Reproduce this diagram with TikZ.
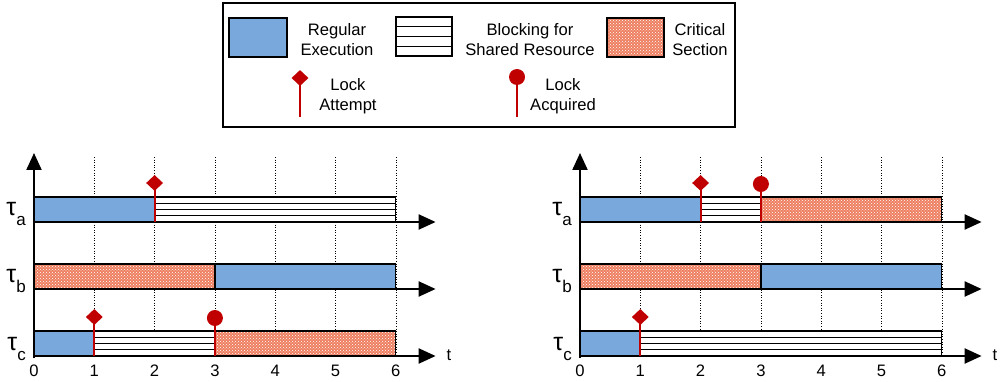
\documentclass[tikz,border=0pt]{standalone}
\usepackage{fontspec}
\setmainfont{Liberation Sans}
\usetikzlibrary{arrows.meta,patterns,shapes.geometric}
\definecolor{regblue}{RGB}{120,168,220}
\definecolor{critsal}{RGB}{238,128,98}
\definecolor{lockred}{RGB}{192,0,0}
\tikzset{
  barbox/.style={draw=black,line width=1.3pt},
  regfill/.style={barbox,fill=regblue},
  axisline/.style={line width=2.2pt,-{Triangle[length=17pt,width=15pt]}},
  gridline/.style={dotted,line width=0.6pt,black},
  lockline/.style={draw=lockred,line width=1.8pt},
  attmark/.style={diamond,fill=lockred,inner sep=0pt,minimum width=17pt,minimum height=16pt},
  acqmark/.style={circle,fill=lockred,inner sep=0pt,minimum size=16pt},
  lbl/.style={font=\fontsize{16.6}{20}\selectfont,align=center,inner sep=0pt},
  ticklbl/.style={font=\fontsize{16.6}{16.6}\selectfont,inner sep=0pt},
  taulbl/.style={anchor=base east,inner sep=0pt,xshift=-8pt}
}
\newcommand\regbar[3]{\draw[regfill] (#1,#3-25) rectangle (#2,#3);}
\newcommand\critbar[3]{%
  \fill[critsal] (#1,#3-25) rectangle (#2,#3);
  \fill[pattern=crosshatch dots,pattern color=white] (#1,#3-25) rectangle (#2,#3);
  \draw[barbox] (#1,#3-25) rectangle (#2,#3);}
\newcommand\blockbar[3]{%
  \draw[barbox,fill=white] (#1,#3-25) rectangle (#2,#3);
  \foreach \k in {1,2,3}{\draw[line width=1.4pt] (#1,#3-25+6.25*\k) -- (#2,#3-25+6.25*\k);}}
\newcommand\lockatt[3]{%
  \draw[lockline] (#1,#2) -- (#1,#2-39);
  \node[attmark] (#3) at (#1,#2-39) {};}
\newcommand\lockacq[3]{%
  \draw[lockline] (#1,#2) -- (#1,#2-38);
  \node[acqmark] (#3) at (#1,#2-38) {};}
\newcommand\taulabel[2]{\node[taulbl] at (0,#1-6) {\fontsize{25}{25}\selectfont τ\raisebox{-0.4em}{\fontsize{17}{17}\selectfont #2}};}
\newcommand\chartframe{%
  \foreach \t in {1,...,6}{\draw[gridline] (\t,157) -- (\t,357);}
  \foreach \t in {0,...,6}{\node[ticklbl] (tick\t) at (\t,371) {\t};}
  \draw[axisline] (0,358) -- (0,153);
  \draw[axisline] (0,222) -- (6.66,222);
  \draw[axisline] (0,289) -- (6.66,289);
  \draw[axisline] (0,356) -- (6.66,356);
  \node[ticklbl] (tlabel) at (6.88,355) {t};
  \taulabel{222}{a}
  \taulabel{289}{b}
  \taulabel{356}{c}}
\begin{document}
\begin{tikzpicture}[x=1pt,y=-1pt]
\useasboundingbox (0,0) rectangle (1007,382);
% legend
\draw[line width=1.2pt] (223,3) rectangle (735,127);
\draw[regfill] (229,18) rectangle (287,57);
\node[lbl] (lreg) at (337,39.5) {Regular\\Execution};
\draw[barbox,fill=white] (396,17) rectangle (452,56);
\foreach \k in {1,2,3}{\draw[line width=1.4pt] (396,17+9.75*\k) -- (452,17+9.75*\k);}
\node[lbl] (lblk) at (530,39.5) {Blocking for\\Shared Resource};
\fill[critsal] (607,18) rectangle (664,57);
\fill[pattern=crosshatch dots,pattern color=white] (607,18) rectangle (664,57);
\draw[barbox] (607,18) rectangle (664,57);
\node[lbl] (lcrit) at (700,39.5) {Critical\\Section};
\draw[lockline] (300,117) -- (300,78);
\node[attmark] (latt) at (300,78) {};
\node[lbl] (lattt) at (348,96.5) {Lock\\Attempt};
\draw[lockline] (517,117) -- (517,77);
\node[acqmark] (lacq) at (517,77) {};
\node[lbl] (lacqt) at (563,96.5) {Lock\\Acquired};
% left chart
\begin{scope}[shift={(34,0)},x=60.3pt,y=-1pt]
  \chartframe
  \regbar{0}{2}{222}
  \blockbar{2}{6}{222}
  \critbar{0}{3}{289}
  \regbar{3}{6}{289}
  \regbar{0}{1}{356}
  \blockbar{1}{3}{356}
  \critbar{3}{6}{356}
  \lockatt{2}{222}{La}
  \lockatt{1}{356}{Lc}
  \lockacq{3}{356}{Lcq}
\end{scope}
% right chart
\begin{scope}[shift={(580,0)},x=60.3pt,y=-1pt]
  \chartframe
  \regbar{0}{2}{222}
  \blockbar{2}{3}{222}
  \critbar{3}{6}{222}
  \critbar{0}{3}{289}
  \regbar{3}{6}{289}
  \regbar{0}{1}{356}
  \blockbar{1}{6}{356}
  \lockatt{2}{222}{Ra}
  \lockacq{3}{222}{Raq}
  \lockatt{1}{356}{Rc}
\end{scope}
\end{tikzpicture}
\end{document}
